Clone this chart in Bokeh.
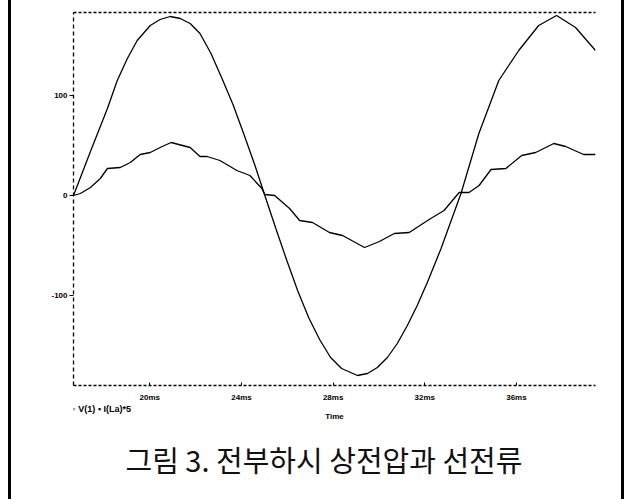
from bokeh.plotting import figure
from bokeh.models import Range1d, FixedTicker, LinearAxis, Title
from bokeh.embed import file_html
from bokeh.resources import INLINE

# ---- data ----
v_time = [16.67, 17.41, 18.15, 18.58, 19.02, 19.45, 20.02, 20.45, 20.89, 21.33,
          21.76, 22.19, 22.67, 23.15, 23.63, 24.11, 24.59, 25.02, 25.50, 25.98,
          26.45, 26.93, 27.41, 27.89, 28.37, 29.06, 29.50, 29.93, 30.37, 30.80,
          31.24, 31.67, 32.11, 32.71, 33.58, 34.36, 35.23, 36.10, 36.97, 37.75,
          38.58, 39.45]
v_vals = [0, 44, 87, 115, 137, 155, 170, 176, 179, 177,
          172, 162, 142, 117, 91, 61, 30, 0, -33, -65,
          -95, -122, -144, -162, -173, -180, -178, -172, -162, -148,
          -130, -110, -87, -53, 2, 62, 115, 145, 170, 180,
          168, 145]

i_time = [16.67, 16.97, 17.41, 17.84, 18.15, 18.71, 19.15, 19.58, 20.02, 20.45,
          20.93, 21.76, 22.19, 22.50, 23.06, 23.80, 24.37, 24.89, 25.02, 25.45,
          26.10, 26.54, 27.10, 27.84, 28.41, 29.37, 30.02, 30.67, 31.32, 32.19,
          32.84, 33.50, 33.93, 34.37, 34.89, 35.54, 36.23, 36.84, 37.63, 38.15,
          38.93, 39.45]
i_vals = [0, 2, 8, 17, 27, 28, 33, 41, 43, 48,
          53, 48, 39, 39, 35, 25, 20, 7, 1, 0,
          -13, -25, -27, -37, -40, -52, -46, -38, -37, -24,
          -15, 3, 3, 10, 26, 27, 40, 43, 52, 49,
          41, 41]

x_ticks = [20, 24, 28, 32, 36]
x_tick_labels = ["20ms", "24ms", "28ms", "32ms", "36ms"]
y_ticks = [-100, 0, 100]
y_tick_labels = ["-100", "0", "100"]

legend_text = "\u25e6 V(1)   \u25aa I(La)*5"
x_title = "Time"
caption = "그림 3. 전부하시 상전압과 선전류"

TICK_FONT = "Liberation Sans"

p = figure(width=627, height=499, output_backend="svg", toolbar_location=None,
           x_range=Range1d(16.67, 39.45), y_range=Range1d(-190, 183),
           x_axis_location=None, y_axis_location=None,
           min_border_left=73, min_border_right=32, min_border_top=12,
           min_border_bottom=114)
p.outline_line_color = None
p.xgrid.visible = False
p.ygrid.visible = False
p.background_fill_color = None
p.border_fill_color = None
# page side rules (thick black vertical bars of the scanned frame)
p.styles = {"background": "linear-gradient(to right, #ffffff 8px, #000000 8px, "
                          "#000000 11px, #ffffff 11px, #ffffff 621px, #000000 621px, "
                          "#000000 624px, #ffffff 624px)"}

# axes
ya = LinearAxis(ticker=FixedTicker(ticks=y_ticks),
                major_label_overrides={t: s for t, s in zip(y_ticks, y_tick_labels)})
ya.axis_line_dash = "4 3"
ya.axis_line_width = 1.3
ya.major_tick_in = 0
ya.major_tick_out = 4
ya.minor_tick_line_color = None
ya.major_label_standoff = 2
ya.major_label_text_font = TICK_FONT
ya.major_label_text_font_style = "bold"
ya.major_label_text_font_size = "8px"
ya.major_label_text_color = "black"
p.add_layout(ya, "left")

xa = LinearAxis(ticker=FixedTicker(ticks=x_ticks),
                major_label_overrides={t: s for t, s in zip(x_ticks, x_tick_labels)})
xa.axis_line_dash = "3 2"
xa.axis_line_width = 1.3
xa.major_tick_in = 3
xa.major_tick_out = 0
xa.minor_tick_line_color = None
xa.major_label_standoff = 7
xa.major_label_text_font = TICK_FONT
xa.major_label_text_font_style = "bold"
xa.major_label_text_font_size = "8px"
xa.major_label_text_color = "black"
p.add_layout(xa, "below")

ta = LinearAxis(ticker=FixedTicker(ticks=[]))
ta.axis_line_dash = "3 2"
ta.axis_line_width = 1.3
ta.major_tick_line_color = None
ta.minor_tick_line_color = None
ta.major_label_text_font_size = "0px"
p.add_layout(ta, "above")

# curves
p.line(v_time, v_vals, line_color="black", line_width=1.3)
p.line(i_time, i_vals, line_color="black", line_width=1.3)

# texts below the frame
t_leg = Title(text=legend_text, align="left", offset=-1, standoff=0,
              text_font=TICK_FONT, text_font_style="bold",
              text_font_size="9px", text_color="black")
t_time = Title(text=x_title, align="center", offset=30, standoff=0,
               text_font=TICK_FONT, text_font_style="bold",
               text_font_size="8px", text_color="black")
cap_standoff = 26
try:
    t_leg.standoff = -5
    t_time.standoff = -4
    cap_standoff = 35
except Exception:
    t_leg.standoff = 0
    t_time.standoff = 0
t_cap = Title(text=caption, align="left", offset=52, standoff=cap_standoff,
              text_font="Noto Sans CJK KR", text_font_style="normal",
              text_font_size="29px", text_color="#111111")
p.add_layout(t_leg, "below")
p.add_layout(t_time, "below")
p.add_layout(t_cap, "below")

open("out.html", "w").write(file_html(p, INLINE))
